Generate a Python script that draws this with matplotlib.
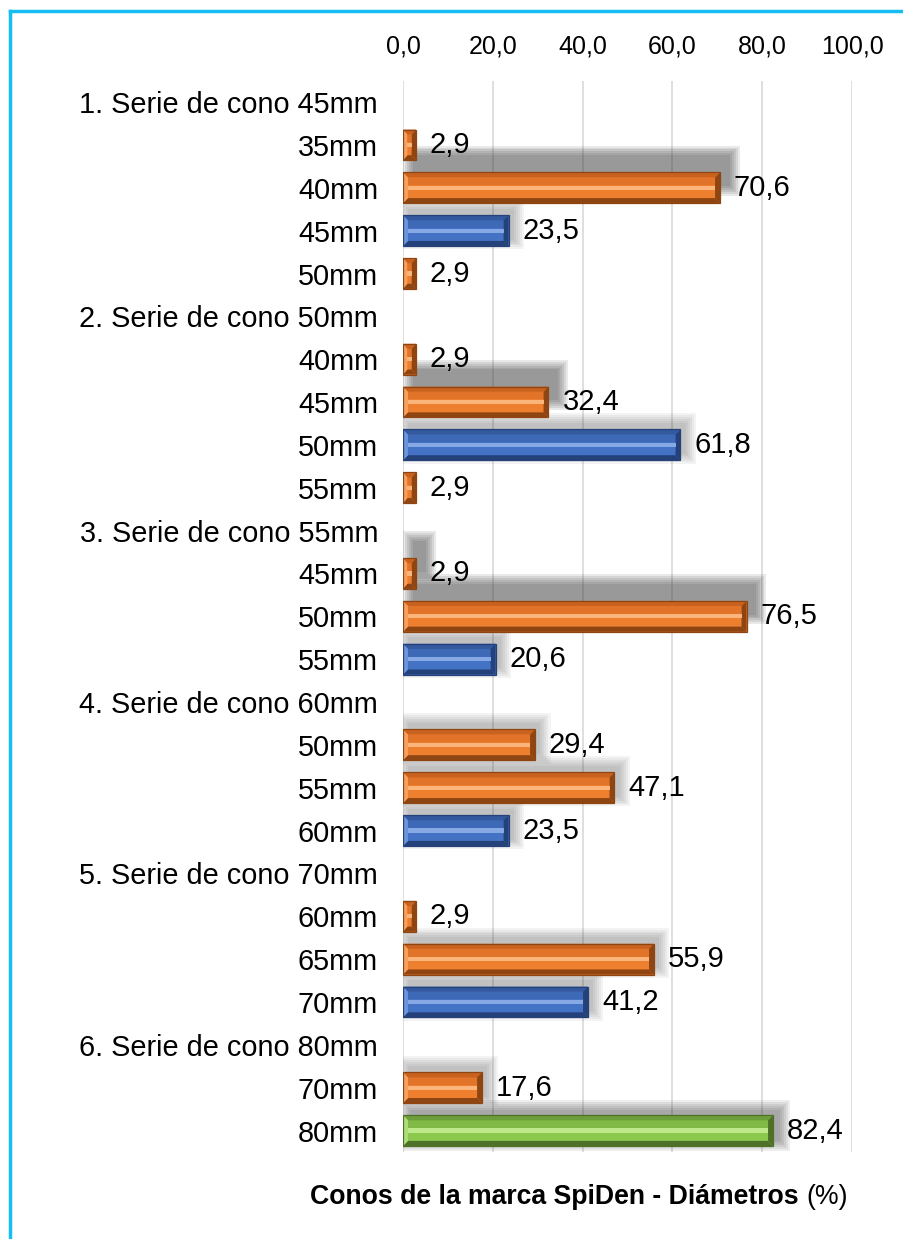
import matplotlib.pyplot as plt
from matplotlib.patches import Polygon, Rectangle
from matplotlib.lines import Line2D

plt.rcParams['font.family'] = ['Liberation Sans', 'DejaVu Sans']

# data
series = ['1. Serie de cono 45mm', '2. Serie de cono 50mm', '3. Serie de cono 55mm',
          '4. Serie de cono 60mm', '5. Serie de cono 70mm', '6. Serie de cono 80mm']
sizes = [['35mm', '40mm', '45mm', '50mm'],
         ['40mm', '45mm', '50mm', '55mm'],
         ['45mm', '50mm', '55mm'],
         ['50mm', '55mm', '60mm'],
         ['60mm', '65mm', '70mm'],
         ['70mm', '80mm']]
values = [[2.9, 70.6, 23.5, 2.9],
          [2.9, 32.4, 61.8, 2.9],
          [2.9, 76.5, 20.6],
          [29.4, 47.1, 23.5],
          [2.9, 55.9, 41.2],
          [17.6, 82.4]]
kinds = [['o', 'o', 'b', 'o'],
         ['o', 'o', 'b', 'o'],
         ['o', 'o', 'b'],
         ['o', 'o', 'b'],
         ['o', 'o', 'b'],
         ['o', 'g']]
# shadow strength per bar (0 none, 1 soft, 2 strong, 3 glow)
shadows = [[0, 2, 1, 0],
           [0, 2, 1, 0],
           [2, 2, 1],
           [1, 1, 1],
           [0, 1, 1],
           [1, 3]]
ticks = [0, 20, 40, 60, 80, 100]

# colours: (face, light, mid, dark, stripe)
palette = {
    'o': ('#EE7F2E', '#F6A060', '#C9621F', '#8E4512', '#FBB57A'),
    'b': ('#4472C4', '#6E95DA', '#34599E', '#24417A', '#86A9E6'),
    'g': ('#8CC84E', '#ADDE78', '#6E9E3C', '#4E7029', '#BDE98A'),
}

labels, bars = [], []
for s, sz, vals, kd, sh in zip(series, sizes, values, kinds, shadows):
    labels.append(s)
    bars.append(None)
    for a, v, k, w in zip(sz, vals, kd, sh):
        labels.append(a)
        bars.append((v, k, w))

fig = plt.figure(figsize=(9.04, 12.39), dpi=100)
ax = fig.add_axes([0.4458, 0.0702, 0.4967, 0.8647])

n = len(labels)
ax.set_xlim(0, 100)
ax.set_ylim(n - 0.5, -0.5)
ax.set_xticks(ticks)
ax.set_xticklabels([f'{t:.1f}'.replace('.', ',') for t in ticks], fontsize=18)
ax.xaxis.tick_top()
ax.set_yticks(range(n))
ax.set_yticklabels(labels, fontsize=20.8)
ax.tick_params(axis='both', length=0)
ax.tick_params(axis='x', pad=16)
ax.tick_params(axis='y', pad=18)
for sp in ax.spines.values():
    sp.set_visible(False)
ax.grid(axis='x', color='#D9D9D9', linewidth=1.2, zorder=0)
ax.set_axisbelow(True)

hh = 0.36
bx, by = 1.1, 0.12
for i, b in enumerate(bars):
    if b is None:
        continue
    v, k, w = b
    face, light, mid, dark, stripe = palette[k]
    x0, x1 = 0, v
    t, btm = i - hh, i + hh
    ex = min(bx, v / 3)
    if w:
        dx, dy, a = {1: (1.2, -0.15, 0.06), 2: (2.2, -0.4, 0.11), 3: (1.5, -0.12, 0.09)}[w]
        for j in range(6):
            px, py = 0.45 * j, 0.045 * j
            ax.add_patch(Rectangle((x0 + dx - px, t + dy - py), v + 2 * px, 2 * hh + 2 * py,
                                   facecolor='#3A3A3A', edgecolor='none',
                                   alpha=a, zorder=2))
    ax.add_patch(Rectangle((x0, t), v, 2 * hh, facecolor=face,
                           edgecolor='none', zorder=3))
    # bevel sides
    ax.add_patch(Polygon([(x0, t), (x1, t), (x1 - ex, t + by), (x0 + ex, t + by)],
                         closed=True, facecolor=mid, edgecolor='none', zorder=4))
    ax.add_patch(Polygon([(x0, btm), (x1, btm), (x1 - ex, btm - by), (x0 + ex, btm - by)],
                         closed=True, facecolor=dark, edgecolor='none', zorder=4))
    ax.add_patch(Polygon([(x0, t), (x0 + ex, t + by), (x0 + ex, btm - by), (x0, btm)],
                         closed=True, facecolor=light, edgecolor='none', zorder=4))
    ax.add_patch(Polygon([(x1, t), (x1 - ex, t + by), (x1 - ex, btm - by), (x1, btm)],
                         closed=True, facecolor=dark, edgecolor='none', zorder=4))
    # inner face: darker top half, light centre stripe
    fw = max(v - 2 * ex, 0)
    ax.add_patch(Rectangle((x0 + ex, t + by), fw, hh - by - 0.06,
                           facecolor=mid, alpha=0.35, edgecolor='none', zorder=5))
    ax.add_patch(Rectangle((x0 + ex, i - 0.05), fw, 0.1,
                           facecolor=stripe, edgecolor='none', zorder=5))
    ax.add_patch(Rectangle((x0, t), v, 2 * hh, facecolor='none',
                           edgecolor=dark, linewidth=0.9, zorder=6))
    ax.text(v + 3.1, i, f'{v:.1f}'.replace('.', ','), fontsize=21,
            va='center', ha='left', zorder=7)

fig.text(0.883, 0.0339, 'Conos de la marca SpiDen - Diámetros', fontsize=19.2,
         fontweight='bold', ha='right', va='center')
fig.text(0.892, 0.0339, '(%)', fontsize=19.2, ha='left', va='center')

# light blue frame on the left and top
fig.add_artist(Line2D([0.0111, 0.0111], [0, 0.9911], color='#16BDF3', linewidth=2.5,
                      transform=fig.transFigure))
fig.add_artist(Line2D([0.0111, 1.0], [0.9911, 0.9911], color='#16BDF3', linewidth=2.5,
                      transform=fig.transFigure))

fig.savefig('out.png', dpi=100)
